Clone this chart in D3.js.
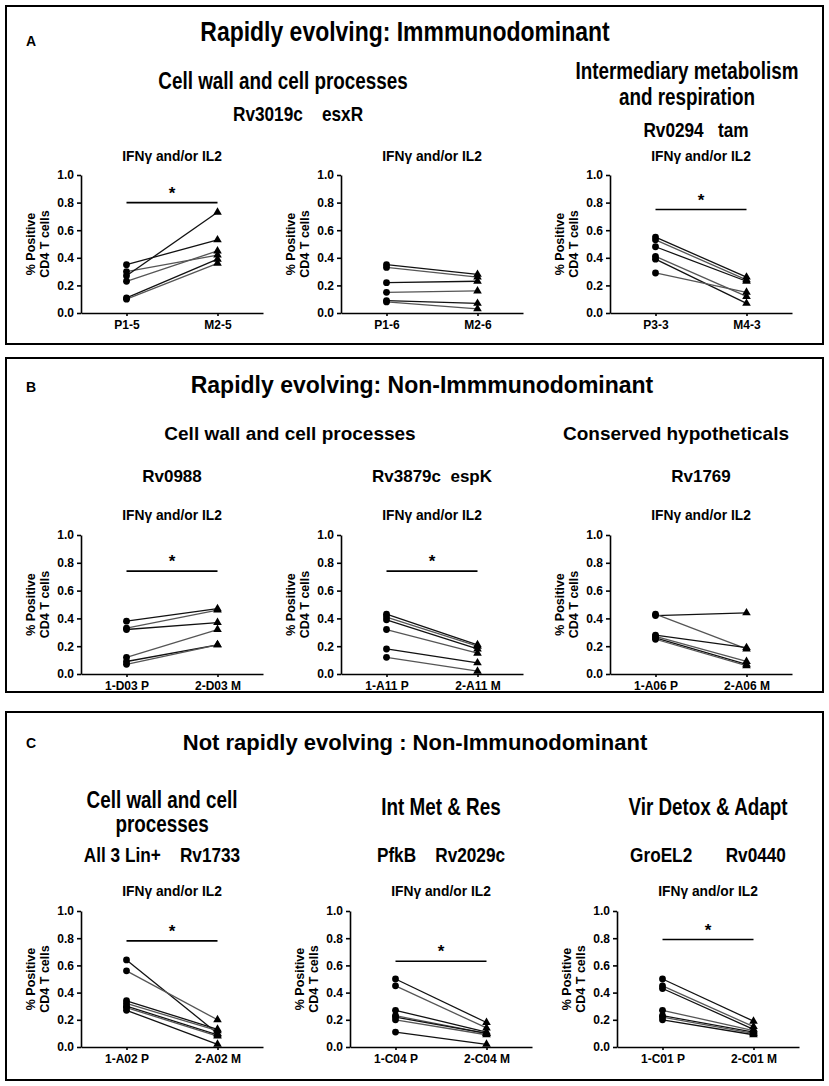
<!DOCTYPE html>
<html>
<head>
<meta charset="utf-8">
<script src="https://cdn.jsdelivr.net/npm/d3@7"></script>
<style>
  body { margin: 0; background: #fff; }
  text { font-family: "Liberation Sans", Arial, sans-serif; fill: #000; }
  .axis path, .axis line { stroke: #000; stroke-width: 1.6; }
  .axis text { font-weight: bold; font-size: 12px; }
</style>
</head>
<body>
<div id="chart"></div>
<script>
// values, % positive CD4 T cells (pre -> post)
var a1Labels = ["P1-5", "M2-5"];
var a1Pre  = [0.35, 0.30, 0.27, 0.23, 0.11, 0.10];
var a1Post = [0.53, 0.42, 0.73, 0.45, 0.39, 0.36];

var a2Labels = ["P1-6", "M2-6"];
var a2Pre  = [0.35, 0.33, 0.22, 0.15, 0.09, 0.08];
var a2Post = [0.28, 0.26, 0.23, 0.16, 0.07, 0.03];

var a3Labels = ["P3-3", "M4-3"];
var a3Pre  = [0.55, 0.53, 0.48, 0.41, 0.39, 0.29];
var a3Post = [0.26, 0.24, 0.23, 0.12, 0.07, 0.15];

var b1Labels = ["1-D03 P", "2-D03 M"];
var b1Pre  = [0.38, 0.33, 0.32, 0.12, 0.09, 0.07];
var b1Post = [0.47, 0.46, 0.37, 0.32, 0.21, 0.21];

var b2Labels = ["1-A11 P", "2-A11 M"];
var b2Pre  = [0.43, 0.41, 0.39, 0.32, 0.18, 0.12];
var b2Post = [0.21, 0.20, 0.18, 0.15, 0.08, 0.02];

var b3Labels = ["1-A06 P", "2-A06 M"];
var b3Pre  = [0.42, 0.43, 0.28, 0.27, 0.26, 0.25];
var b3Post = [0.44, 0.18, 0.19, 0.09, 0.07, 0.06];

var c1Labels = ["1-A02 P", "2-A02 M"];
var c1Pre  = [0.64, 0.56, 0.34, 0.32, 0.30, 0.29, 0.27];
var c1Post = [0.10, 0.20, 0.13, 0.12, 0.09, 0.08, 0.02];

var c2Labels = ["1-C04 P", "2-C04 M"];
var c2Pre  = [0.50, 0.45, 0.27, 0.23, 0.22, 0.20, 0.11];
var c2Post = [0.18, 0.14, 0.11, 0.10, 0.10, 0.09, 0.02];

var c3Labels = ["1-C01 P", "2-C01 M"];
var c3Pre  = [0.50, 0.45, 0.43, 0.27, 0.23, 0.22, 0.20];
var c3Post = [0.19, 0.15, 0.13, 0.12, 0.11, 0.10, 0.09];

// significance bar level (null = none)
var sigLevels = {a1: 0.80, a2: null, a3: 0.75, b1: 0.74, b2: 0.74, b3: null, c1: 0.78, c2: 0.63, c3: 0.79};

var yTicks = [0, 0.2, 0.4, 0.6, 0.8, 1.0];
var plotTitle = "IFN\u03b3 and/or IL2";

var W = 829, H = 1086;
var svg = d3.select("#chart").append("svg")
  .attr("width", W).attr("height", H);

// panel boxes
var boxes = [
  {y0: 6, y1: 344, letter: "A", ly: 46},
  {y0: 358, y1: 692, letter: "B", ly: 392},
  {y0: 712, y1: 1080, letter: "C", ly: 748}
];
boxes.forEach(function(b) {
  svg.append("rect")
    .attr("x", 6).attr("y", b.y0)
    .attr("width", 817).attr("height", b.y1 - b.y0)
    .attr("fill", "none").attr("stroke", "#000").attr("stroke-width", 2);
  svg.append("text")
    .attr("x", 26).attr("y", b.ly)
    .attr("font-weight", "bold").attr("font-size", 14)
    .text(b.letter);
});

// headings: [text, x, y, size, narrow]
var headings = [
  ["Rapidly evolving: Immmunodominant", 405, 41, 28, true],
  ["Cell wall and cell processes", 283, 89, 23, true],
  ["Rv3019c    esxR", 298, 121, 21, true],
  ["Intermediary metabolism", 687, 79, 23, true],
  ["and respiration", 687, 105, 23, true],
  ["Rv0294   tam", 696, 137, 21, true],

  ["Rapidly evolving: Non-Immmunodominant", 422, 393, 23, false],
  ["Cell wall and cell processes", 290, 440, 19, false],
  ["Conserved hypotheticals", 676, 440, 19, false],
  ["Rv0988", 172, 482, 17, false],
  ["Rv3879c  espK", 432, 482, 17, false],
  ["Rv1769", 701, 482, 17, false],

  ["Not rapidly evolving : Non-Immunodominant", 415, 750, 22, false],
  ["Cell wall and cell", 162, 808, 23, true],
  ["processes", 162, 832, 23, true],
  ["Int Met & Res", 441, 815, 23, true],
  ["Vir Detox & Adapt", 708, 815, 23, true],
  ["All 3 Lin+    Rv1733", 162, 862, 21, true],
  ["PfkB    Rv2029c", 441, 862, 21, true],
  ["GroEL2       Rv0440", 708, 862, 21, true]
];
headings.forEach(function(h) {
  svg.append("text")
    .attr("transform", "translate(" + h[1] + "," + h[2] + ")" + (h[4] ? " scale(0.82,1)" : ""))
    .attr("text-anchor", "middle")
    .attr("font-size", h[3])
    .attr("font-weight", "bold")
    .style("white-space", "pre")
    .text(h[0]);
});

// plot frames: x of y-axis, pixel of 1.0 and 0.0
var plots = [
  {key: "a1", x: 81,  top: 175, bottom: 313, title: 161, labels: a1Labels, pre: a1Pre, post: a1Post},
  {key: "a2", x: 341, top: 175, bottom: 313, title: 161, labels: a2Labels, pre: a2Pre, post: a2Post},
  {key: "a3", x: 610, top: 175, bottom: 313, title: 161, labels: a3Labels, pre: a3Pre, post: a3Post},
  {key: "b1", x: 81,  top: 535, bottom: 674, title: 520, labels: b1Labels, pre: b1Pre, post: b1Post},
  {key: "b2", x: 341, top: 535, bottom: 674, title: 520, labels: b2Labels, pre: b2Pre, post: b2Post},
  {key: "b3", x: 610, top: 535, bottom: 674, title: 520, labels: b3Labels, pre: b3Pre, post: b3Post},
  {key: "c1", x: 81,  top: 911, bottom: 1047, title: 896, labels: c1Labels, pre: c1Pre, post: c1Post},
  {key: "c2", x: 350, top: 911, bottom: 1047, title: 896, labels: c2Labels, pre: c2Pre, post: c2Post},
  {key: "c3", x: 617, top: 911, bottom: 1047, title: 896, labels: c3Labels, pre: c3Pre, post: c3Post}
];
var plotW = 182;

var triangle = d3.symbol().type(d3.symbolTriangle).size(32);

plots.forEach(function(p) {
  var x = d3.scalePoint().domain(p.labels).range([p.x, p.x + plotW]).padding(0.5);
  var y = d3.scaleLinear().domain([0, 1]).range([p.bottom, p.top]);

  svg.append("text")
    .attr("transform", "translate(" + (p.x + plotW / 2) + "," + p.title + ") scale(0.92,1)")
    .attr("text-anchor", "middle").attr("font-size", 15).attr("font-weight", "bold")
    .text(plotTitle);

  // y axis title, two lines
  var cy = (p.top + p.bottom) / 2;
  [["% Positive", p.x - 46], ["CD4 T cells", p.x - 32]].forEach(function(t) {
    svg.append("text")
      .attr("transform", "translate(" + t[1] + "," + cy + ") rotate(-90)")
      .attr("text-anchor", "middle")
      .attr("font-weight", "bold").attr("font-size", 12.5)
      .text(t[0]);
  });

  svg.append("g").attr("class", "axis")
    .attr("transform", "translate(" + p.x + ",0)")
    .call(d3.axisLeft(y).tickValues(yTicks).tickSize(4).tickSizeOuter(0).tickFormat(d3.format(".1f")));

  var xa = svg.append("g").attr("class", "axis")
    .attr("transform", "translate(0," + p.bottom + ")")
    .call(d3.axisBottom(x).tickSize(3).tickSizeOuter(0));
  xa.selectAll("text").attr("font-size", 12.5).attr("dy", "0.8em");

  var pairs = p.pre.map(function(v, i) { return [v, p.post[i]]; });

  svg.append("g").selectAll("line")
    .data(pairs).enter().append("line")
    .attr("x1", x(p.labels[0])).attr("x2", x(p.labels[1]))
    .attr("y1", function(d) { return y(d[0]); })
    .attr("y2", function(d) { return y(d[1]); })
    .attr("stroke", function(d, i) { return i % 2 ? "#555" : "#111"; })
    .attr("stroke-width", 1.3);

  svg.append("g").selectAll("circle")
    .data(p.pre).enter().append("circle")
    .attr("cx", x(p.labels[0]))
    .attr("cy", function(d) { return y(d); })
    .attr("r", 3.4).attr("fill", "#000");

  svg.append("g").selectAll("path")
    .data(p.post).enter().append("path")
    .attr("d", triangle)
    .attr("transform", function(d) { return "translate(" + x(p.labels[1]) + "," + y(d) + ")"; })
    .attr("fill", "#000");

  var s = sigLevels[p.key];
  if (s != null) {
    svg.append("line")
      .attr("x1", x(p.labels[0])).attr("x2", x(p.labels[1]))
      .attr("y1", y(s)).attr("y2", y(s))
      .attr("stroke", "#000").attr("stroke-width", 1.6);
    svg.append("text")
      .attr("x", (x(p.labels[0]) + x(p.labels[1])) / 2).attr("y", y(s) - 4)
      .attr("text-anchor", "middle").attr("font-size", 17).attr("font-weight", "bold")
      .text("*");
  }
});
</script>
</body>
</html>
